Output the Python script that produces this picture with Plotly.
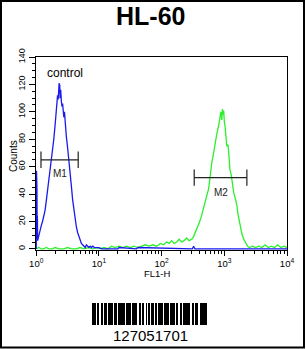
import numpy as np
import plotly.graph_objects as go

# ---------------- data ----------------
title_text = "HL-60"
x_label = "FL1-H"
y_label = "Counts"
control_label = "control"
sample_code = "127051701"

# control (blue) histogram: log10(FL1-H) positions and counts
blue_log = [0.000, 0.004, 0.008, 0.011, 0.014, 0.018, 0.022, 0.04, 0.06, 0.08,
            0.10, 0.12, 0.14, 0.16, 0.18, 0.20, 0.22, 0.24, 0.26, 0.28,
            0.30, 0.32, 0.33, 0.34, 0.35, 0.36, 0.365, 0.37, 0.375, 0.38,
            0.39, 0.40, 0.41, 0.42, 0.43, 0.44, 0.45, 0.46, 0.48, 0.50,
            0.52, 0.54, 0.56, 0.58, 0.60, 0.62, 0.64, 0.66, 0.68, 0.70,
            0.72, 0.74, 0.76, 0.78, 0.80, 0.82, 0.84, 0.86, 0.88, 0.90,
            0.93, 0.96, 1.00, 1.05, 1.30, 1.32, 1.60, 1.62, 2.49, 2.51,
            2.53, 4.00]
blue_counts = [0, 57, 28, 45, 15, 24, 6, 10, 14, 17,
               20, 24, 28, 35, 42, 50, 58, 64, 72, 80,
               90, 101, 106, 112, 109, 117, 121, 114, 120, 110,
               116, 108, 104, 106, 100, 96, 100, 92, 82, 74,
               66, 56, 46, 36, 28, 22, 16, 12, 9, 6,
               4, 3, 2, 1, 3, 2, 1, 2, 1, 2,
               1, 1, 1, 0, 0, 1, 0, 1, 0, 2,
               0, 0]

# sample (green) histogram
green_log = [0.00, 0.04, 0.08, 0.12, 0.16, 0.20, 0.26, 0.30, 0.36, 0.44,
             0.50, 0.56, 0.64, 0.70, 0.76, 0.84, 0.90, 0.96, 1.02, 1.08,
             1.14, 1.20, 1.26, 1.32, 1.38, 1.44, 1.50, 1.56, 1.62, 1.68,
             1.74, 1.80, 1.86, 1.92, 1.98, 2.03, 2.08, 2.12, 2.16, 2.20,
             2.24, 2.28, 2.32, 2.36, 2.40, 2.44, 2.48, 2.51, 2.54, 2.57,
             2.60, 2.63, 2.66, 2.69, 2.72, 2.75, 2.78, 2.80, 2.83, 2.855,
             2.88, 2.91, 2.93, 2.945, 2.96, 2.97, 2.98, 2.99, 3.00, 3.01,
             3.03, 3.04, 3.06, 3.07, 3.09, 3.11, 3.13, 3.15, 3.18, 3.20,
             3.22, 3.25, 3.28, 3.31, 3.34, 3.37, 3.40, 3.45, 3.50, 3.55,
             3.60, 3.65, 3.70, 3.75, 3.80, 3.85, 3.90, 3.95, 4.00]
green_counts = [0, 1, 0, 0, 1, 0, 0, 1, 0, 0,
                1, 0, 0, 1, 0, 1, 0, 1, 0, 1,
                0, 2, 1, 2, 1, 2, 1, 2, 1, 2,
                3, 2, 3, 2, 4, 3, 5, 4, 6, 4,
                5, 7, 5, 6, 8, 6, 7, 9, 12, 15,
                19, 23, 28, 33, 38, 44, 55, 63, 70, 78,
                84, 90, 96, 100, 94, 102, 98, 101, 93, 90,
                80, 75, 76, 70, 58, 54, 46, 41, 36, 32,
                25, 17, 11, 7, 4, 2, 1, 2, 1, 2,
                1, 3, 1, 2, 1, 3, 1, 2, 1]

# marker gates
gate_names = ["M1", "M2"]
gate_lo = [1.19, 331]
gate_hi = [4.67, 2290]
gate_y = [65, 52]
gate_cap = 6
gate_label_y = [55, 41]

# axes ticks
x_tickvals = [1, 10, 100, 1000, 10000]
x_ticktext = ["10<sup>0</sup>", "10<sup>1</sup>", "10<sup>2</sup>", "10<sup>3</sup>", "10<sup>4</sup>"]
x_minor = [m * d for d in [1, 10, 100, 1000] for m in range(2, 10)]

# barcode (Code 128 module widths, bar/space alternating)
barcode_modules = [2, 1, 1, 2, 1, 4,
                   1, 2, 3, 2, 2, 1,
                   2, 2, 3, 2, 1, 1,
                   3, 1, 2, 1, 3, 1,
                   1, 2, 3, 1, 2, 2,
                   2, 1, 3, 2, 1, 2,
                   1, 2, 3, 2, 2, 1,
                   3, 1, 2, 1, 3, 1,
                   1, 2, 3, 1, 2, 2,
                   1, 2, 3, 2, 2, 1,
                   1, 1, 2, 2, 3, 2,
                   2, 3, 3, 1, 1, 1, 2]

# ---------------- figure ----------------
W, H = 306, 349
FONT = "Liberation Sans, Arial, sans-serif"

def px_x(p):
    return p / W

def px_y(p):
    return 1 - p / H

fig = go.Figure()

fig.add_trace(go.Scatter(
    x=10 ** np.array(green_log), y=green_counts, mode="lines",
    line=dict(color="#2bf02b", width=1.3), hoverinfo="skip", showlegend=False))
fig.add_trace(go.Scatter(
    x=10 ** np.array(blue_log), y=blue_counts, mode="lines",
    line=dict(color="#1a1aee", width=1.3), hoverinfo="skip", showlegend=False))

# gate bars
gx, gy = [], []
for lo, hi, yv in zip(gate_lo, gate_hi, gate_y):
    gx += [lo, hi, None, lo, lo, None, hi, hi, None]
    gy += [yv, yv, None, yv - gate_cap, yv + gate_cap, None, yv - gate_cap, yv + gate_cap, None]
fig.add_trace(go.Scatter(x=gx, y=gy, mode="lines", line=dict(color="#222222", width=1.2),
                         hoverinfo="skip", showlegend=False))

# barcode
edges = np.concatenate([[0], np.cumsum(barcode_modules)])
bar_idx = np.arange(0, len(barcode_modules), 2)
bar_centers = (edges[bar_idx] + edges[bar_idx + 1]) / 2
bar_widths = np.array(barcode_modules)[bar_idx]
fig.add_trace(go.Bar(x=bar_centers, y=[1] * len(bar_idx), width=bar_widths,
                     marker=dict(color="black", line=dict(width=0)),
                     xaxis="x2", yaxis="y2", hoverinfo="skip", showlegend=False))

annotations = [
    dict(text="<b>" + title_text + "</b>", x=px_x(150), y=px_y(15.5), xref="paper", yref="paper",
         showarrow=False, font=dict(family=FONT, size=25, color="black"), xanchor="center", yanchor="middle"),
    dict(text=y_label, x=px_x(13), y=px_y(156), xref="paper", yref="paper", textangle=-90,
         showarrow=False, font=dict(family=FONT, size=10, color="black"), xanchor="center", yanchor="middle"),
    dict(text=x_label, x=px_x(157.5), y=px_y(273.5), xref="paper", yref="paper",
         showarrow=False, font=dict(family=FONT, size=9.5, color="black"), xanchor="center", yanchor="middle"),
    dict(text=control_label, x=0.46, y=128, xref="x", yref="y",
         showarrow=False, font=dict(family=FONT, size=12, color="black"), xanchor="center", yanchor="middle"),
    dict(text=sample_code, x=px_x(150), y=px_y(335), xref="paper", yref="paper",
         showarrow=False, font=dict(family=FONT, size=15, color="black"), xanchor="center", yanchor="middle"),
]
for name, lo, hi, ly in zip(gate_names, gate_lo, gate_hi, gate_label_y):
    annotations.append(dict(text=name, x=(np.log10(lo) + np.log10(hi)) / 2, y=ly, xref="x", yref="y",
                            showarrow=False, font=dict(family=FONT, size=10, color="#222222"),
                            xanchor="center", yanchor="middle"))

fig.update_layout(
    width=W, height=H, template="none",
    margin=dict(l=0, r=0, t=0, b=0, pad=0),
    paper_bgcolor="white", plot_bgcolor="white",
    showlegend=False,
    xaxis=dict(
        type="log", range=[-0.004, 4], domain=[px_x(36), px_x(287)], anchor="y",
        tickmode="array", tickvals=x_tickvals, ticktext=x_ticktext,
        ticks="outside", ticklen=5, tickwidth=1, tickcolor="black",
        minor=dict(tickmode="array", tickvals=x_minor, ticks="outside", ticklen=3, tickcolor="black", tickwidth=1),
        showline=True, linecolor="black", linewidth=1, mirror=True,
        showgrid=False, zeroline=False, automargin=False,
        tickfont=dict(family=FONT, size=9.5, color="black"),
    ),
    yaxis=dict(
        range=[-0.8, 140], domain=[px_y(250), px_y(57)], anchor="x",
        tickmode="linear", tick0=0, dtick=20, tickangle=-90,
        ticks="outside", ticklen=6, tickwidth=1, tickcolor="black",
        minor=dict(dtick=5, tick0=0, ticks="outside", ticklen=3, tickcolor="black", tickwidth=1),
        showline=True, linecolor="black", linewidth=1, mirror=True,
        showgrid=False, zeroline=False, automargin=False,
        tickfont=dict(family=FONT, size=9, color="black"),
    ),
    xaxis2=dict(range=[0, float(edges[-1])], domain=[px_x(92), px_x(207)], anchor="y2",
                visible=False, fixedrange=True),
    yaxis2=dict(range=[0, 1], domain=[px_y(325), px_y(303)], anchor="x2",
                visible=False, fixedrange=True),
    bargap=0,
    annotations=annotations,
    shapes=[dict(type="rect", xref="paper", yref="paper",
                 x0=px_x(1), x1=px_x(304), y0=px_y(347.5), y1=px_y(1),
                 line=dict(color="black", width=2), fillcolor="rgba(0,0,0,0)")],
)

fig.write_html("out.html")
